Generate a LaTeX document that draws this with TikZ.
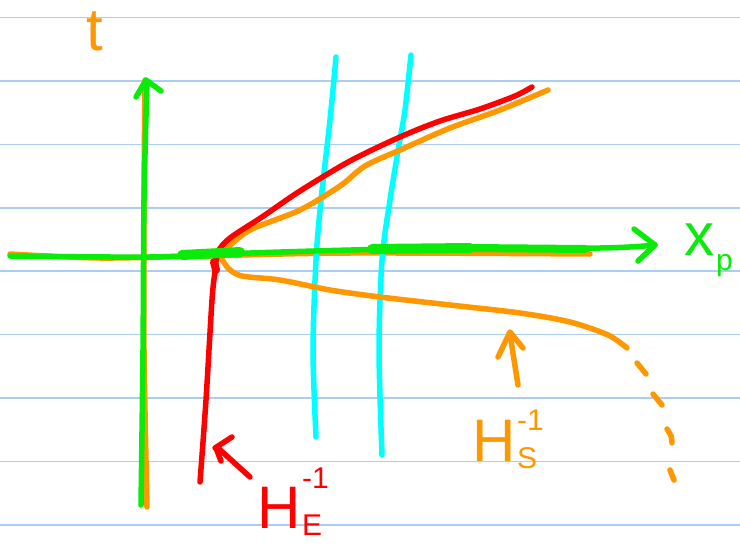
\documentclass[tikz,border=0pt]{standalone}
\usepackage{fontspec}
\setmainfont{Liberation Sans}
\definecolor{ruleblue}{RGB}{170,205,245}
\definecolor{pengreen}{RGB}{10,235,10}
\definecolor{penorange}{RGB}{255,152,0}
\definecolor{penred}{RGB}{255,0,0}
\definecolor{pencyan}{RGB}{0,255,255}
\tikzset{
  ruleline/.style={ruleblue, line width=1.3pt},
  pen/.style={line width=5.5pt, line cap=round, line join=round},
  lbl/.style={inner sep=0pt, font=\fontsize{60}{60}\selectfont},
  sublbl/.style={inner sep=0pt, anchor=west, font=\fontsize{30}{30}\selectfont}
}
\begin{document}
\begin{tikzpicture}[x=1pt,y=-1pt]
\useasboundingbox (0,0) rectangle (740,546);
\fill[white] (0,0) rectangle (740,546);
\foreach \y in {17.5,81,144.5,208,271,334.5,398,461.5,525} \draw[ruleline] (0,\y) -- (740,\y);

% orange under-strokes
\draw[pen, penorange] plot[smooth] coordinates {(145,80) (144,200) (144,350) (147,507)};
\draw[pen, penorange] plot[smooth] coordinates {(10,254) (100,258) (200,256) (350,253) (590,254)};

% cyan lines
\draw[pen, pencyan] plot[smooth] coordinates {(336,57) (330,120) (321,200) (316,260) (313,350) (316,437)};
\draw[pen, pencyan] plot[smooth] coordinates {(411,55) (405,110) (399,145) (390,200) (382,260) (379,350) (382,455)};

% orange H_S curves
\draw[pen, penorange] plot[smooth] coordinates {(226,249) (250,230) (300,210) (340,186) (365,166) (400,150) (450,128) (500,110) (548,90)};
\draw[pen, penorange] plot[smooth] coordinates {(219,254) (228,268) (242,276) (280,280) (330,290) (380,297) (450,305) (520,313) (570,322) (608,335) (627,348)};
\draw[pen, penorange] (637,363) -- (646,374);
\draw[pen, penorange] (653,394) -- (662,405);
\draw[pen, penorange] plot[smooth] coordinates {(667,429) (671,436) (672,443)};
\draw[pen, penorange] (670,470) -- (674,480);

% red H_E curve
\draw[pen, penred] plot[smooth] coordinates {(200,482) (206,400) (212,300) (215,272) (218,252) (230,238) (262,217) (300,191) (350,161) (400,137) (440,121) (480,109) (515,96) (532,87)};
\draw[line width=8pt, penred, line cap=round] (214,262) -- (216,270);

% green axes
\draw[pen, pengreen] plot[smooth] coordinates {(141,505) (143,350) (144,200) (147,82)};
\draw[pen, pengreen] (136,97) -- (146,80) -- (161,91);
\draw[pen, pengreen] plot[smooth] coordinates {(10,256) (150,257) (250,253) (400,249) (600,248) (655,245)};
\draw[pen, pengreen] (634,229) -- (655,245) -- (638,261);
\draw[line width=10pt, pengreen, line cap=round] (182,255) -- (240,252);
\draw[line width=10pt, pengreen, line cap=round] (372,249) -- (470,248);
\draw[line width=8pt, pengreen, line cap=round] (470,248) -- (585,249);

% red arrow pointing to H_E^-1 curve
\draw[pen, penred] (250,477) -- (218,448);
\draw[pen, penred] (215,448) -- (232,437);
\draw[pen, penred] (216,448) -- (221,461);

% orange arrow pointing to H_S^-1 curve
\draw[pen, penorange] (518,385) -- (510,334);
\draw[pen, penorange] (498,357) -- (510,332) -- (523,348);

% labels
\node[lbl, text=penorange] (t) at (95,31) {t};
\node[lbl, text=pengreen] (xp) at (699,240) {x};
\node[sublbl, text=pengreen] (xpsub) at (716,266) {p};
\node[lbl, text=penred] (he) at (279,508) {H};
\node[sublbl, text=penred] (hesub) at (302,525) {E};
\node[sublbl, text=penred] (hesup) at (302,478) {-1};
\node[lbl, text=penorange] (hs) at (494,441) {H};
\node[sublbl, text=penorange] (hssub) at (517,458) {S};
\node[sublbl, text=penorange] (hssup) at (517,420) {-1};
\end{tikzpicture}
\end{document}
